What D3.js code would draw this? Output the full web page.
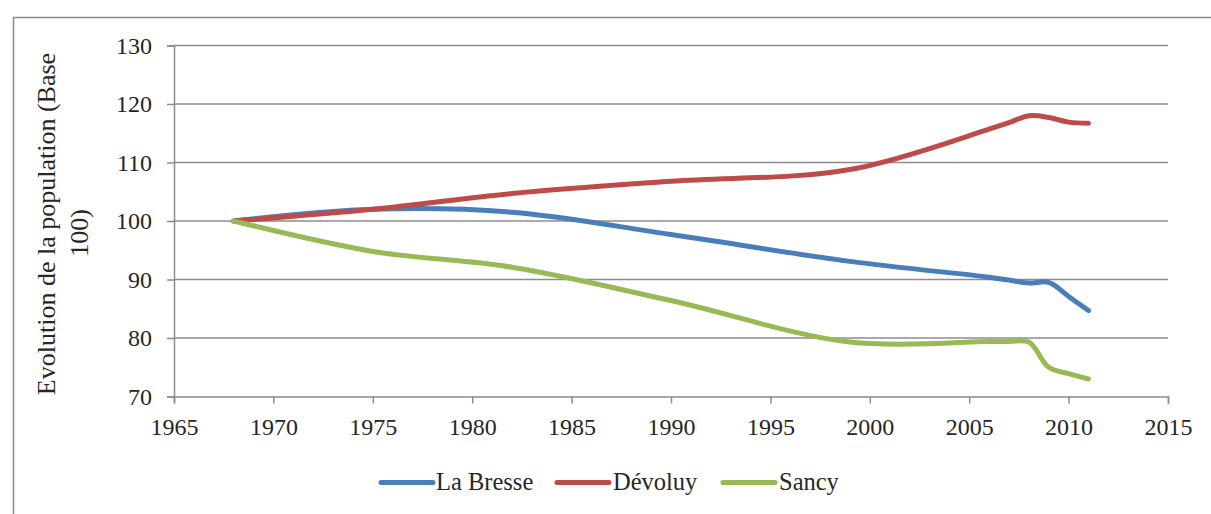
<!DOCTYPE html>
<html>
<head>
<meta charset="utf-8">
<script src="https://cdn.jsdelivr.net/npm/d3@7"></script>
<style>
  html, body { margin: 0; padding: 0; background: #fff; }
  svg { display: block; }
  text { font-family: "Liberation Serif", "DejaVu Serif", serif; fill: #262626; }
</style>
</head>
<body>
<svg id="chart" width="1211" height="514"></svg>
<script>
// Population index (base 100 in 1968)
const years     = [1968, 1975, 1982, 1990, 1999, 2006, 2007, 2008, 2009, 2010, 2011];
const laBresse  = [100, 102.0, 101.5, 97.7, 93.1, 90.4, 89.9, 89.4, 89.5, 87.1, 84.7];
const devoluy   = [100, 102.0, 104.7, 106.8, 108.8, 115.7, 116.8, 118.0, 117.7, 116.9, 116.7];
const sancy     = [100, 94.8, 92.1, 86.4, 79.3, 79.4, 79.4, 79.3, 75.0, 73.9, 73.0];

const seriesNames  = ["La Bresse", "Dévoluy", "Sancy"];
const seriesColors = ["#4a7ebb", "#be4b48", "#98b954"];
const xTicks = [1965, 1970, 1975, 1980, 1985, 1990, 1995, 2000, 2005, 2010, 2015];
const yTicks = [70, 80, 90, 100, 110, 120, 130];
const yTitle = ["Evolution de la population (Base", "100)"];

const series = [laBresse, devoluy, sancy].map((vals, i) => ({
  name: seriesNames[i],
  color: seriesColors[i],
  points: years.map((y, j) => ({ year: y, value: vals[j] }))
}));

const svg = d3.select("#chart");
const gridColor = "#8c8c8c";
const fontStack = "'Liberation Serif', 'DejaVu Serif', serif";

// outer frame (top and left edges)
svg.append("path")
  .attr("d", "M13.5,514 V17.5 H1211")
  .attr("fill", "none")
  .attr("stroke", gridColor)
  .attr("stroke-width", 1.5);

const x = d3.scaleLinear().domain([1965, 2015]).range([174, 1168]);
const y = d3.scaleLinear().domain([70, 130]).range([396.5, 45.5]);

// horizontal gridlines
svg.append("g")
  .selectAll("line")
  .data(yTicks.filter(t => t !== 70))
  .join("line")
  .attr("x1", x(1965)).attr("x2", x(2015))
  .attr("y1", d => y(d)).attr("y2", d => y(d))
  .attr("stroke", gridColor)
  .attr("stroke-width", 1.5);

// y axis
const yAxis = svg.append("g")
  .attr("transform", `translate(${x(1965)},0)`)
  .call(d3.axisLeft(y).tickValues(yTicks).tickSize(7).tickPadding(15).tickFormat(d3.format("d")));
yAxis.select(".domain").attr("stroke", gridColor).attr("stroke-width", 1.5);
yAxis.selectAll(".tick line").attr("stroke", gridColor).attr("stroke-width", 1.5);
yAxis.selectAll("text")
  .style("font-family", fontStack)
  .style("font-size", "24px")
  .attr("fill", "#262626");

// x axis
const xAxis = svg.append("g")
  .attr("transform", `translate(0,${y(70)})`)
  .call(d3.axisBottom(x).tickValues(xTicks).tickSize(7).tickPadding(14).tickFormat(d3.format("d")));
xAxis.select(".domain").attr("stroke", gridColor).attr("stroke-width", 1.5);
xAxis.selectAll(".tick line").attr("stroke", gridColor).attr("stroke-width", 1.5);
xAxis.selectAll("text")
  .style("font-family", fontStack)
  .style("font-size", "24px")
  .attr("fill", "#262626");

// y axis title (two lines, rotated)
const title = svg.append("text")
  .attr("transform", "translate(0,224) rotate(-90)")
  .attr("text-anchor", "middle")
  .style("font-size", "26px");
title.append("tspan").attr("x", 0).attr("y", 55).text(yTitle[0]);
title.append("tspan").attr("x", -9).attr("y", 88).text(yTitle[1]);

// series lines
const line = d3.line()
  .x(d => x(d.year))
  .y(d => y(d.value))
  .curve(d3.curveCatmullRom.alpha(0.5));

svg.append("g")
  .selectAll("path")
  .data(series)
  .join("path")
  .attr("d", d => line(d.points))
  .attr("fill", "none")
  .attr("stroke", d => d.color)
  .attr("stroke-width", 5)
  .attr("stroke-linecap", "round")
  .attr("stroke-linejoin", "round");

// legend
const legendItems = [
  { x0: 381, tx: 436 },
  { x0: 557, tx: 613 },
  { x0: 723, tx: 779 }
];
const legend = svg.append("g");
series.forEach((s, i) => {
  const it = legendItems[i];
  legend.append("line")
    .attr("x1", it.x0).attr("x2", it.x0 + 52)
    .attr("y1", 482.5).attr("y2", 482.5)
    .attr("stroke", s.color)
    .attr("stroke-width", 5)
    .attr("stroke-linecap", "round");
  legend.append("text")
    .attr("x", it.tx)
    .attr("y", 490)
    .style("font-size", "24.5px")
    .text(s.name);
});
</script>
</body>
</html>
